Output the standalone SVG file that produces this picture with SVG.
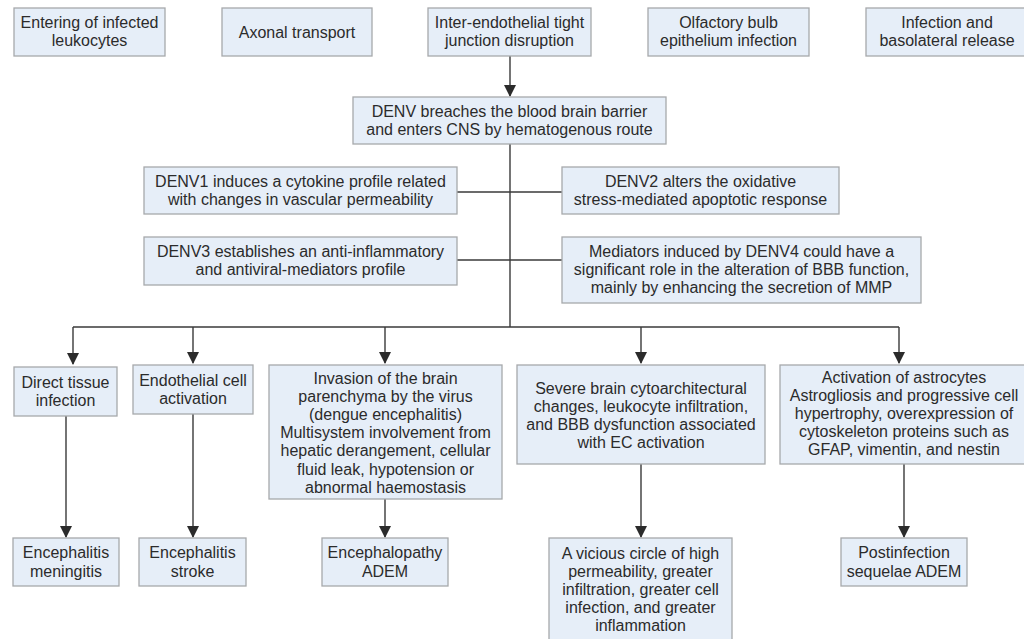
<svg xmlns="http://www.w3.org/2000/svg" width="1024" height="639" viewBox="0 0 1024 639">
<style>
.box{fill:#e6eef8;stroke:#a7a9ab;stroke-width:1.3}
text{font-family:"Liberation Sans",Arial,sans-serif;font-size:16px;fill:#2b2b2b;text-anchor:middle}
.ln{stroke:#3a3a3a;stroke-width:1.4;fill:none}
</style>
<defs>
<marker id="ah" markerWidth="12" markerHeight="12" viewBox="0 0 12 12" refX="11" refY="6" orient="auto" markerUnits="userSpaceOnUse">
<path d="M0,0 L12,6 L0,12 Z" fill="#2b2b2b"/>
</marker>
</defs>
<rect width="1024" height="639" fill="#ffffff"/>
<g id="connectors">
<line class="ln" x1="510" y1="56" x2="510" y2="96" marker-end="url(#ah)"/>
<line class="ln" x1="510" y1="144" x2="510" y2="327"/>
<line class="ln" x1="457" y1="192" x2="562" y2="192"/>
<line class="ln" x1="457" y1="260" x2="562" y2="260"/>
<line class="ln" x1="73" y1="327" x2="899" y2="327"/>
<line class="ln" x1="73" y1="327" x2="73" y2="364" marker-end="url(#ah)"/>
<line class="ln" x1="193" y1="327" x2="193" y2="363" marker-end="url(#ah)"/>
<line class="ln" x1="385" y1="327" x2="385" y2="363" marker-end="url(#ah)"/>
<line class="ln" x1="641" y1="327" x2="641" y2="363" marker-end="url(#ah)"/>
<line class="ln" x1="899" y1="327" x2="899" y2="363" marker-end="url(#ah)"/>
<line class="ln" x1="66" y1="416" x2="66" y2="537" marker-end="url(#ah)"/>
<line class="ln" x1="193" y1="414" x2="193" y2="537" marker-end="url(#ah)"/>
<line class="ln" x1="385" y1="499" x2="385" y2="537" marker-end="url(#ah)"/>
<line class="ln" x1="641" y1="464" x2="641" y2="537" marker-end="url(#ah)"/>
<line class="ln" x1="904" y1="464" x2="904" y2="537" marker-end="url(#ah)"/>
</g>
<g id="t1"><rect class="box" x="14" y="8" width="151" height="48"/><text x="89.5" y="28">Entering of infected</text><text x="89.5" y="46">leukocytes</text></g>
<g id="t2"><rect class="box" x="222" y="8" width="150" height="48"/><text x="297" y="37.5">Axonal transport</text></g>
<g id="t3"><rect class="box" x="428" y="8" width="163" height="48"/><text x="509.5" y="28">Inter-endothelial tight</text><text x="509.5" y="46">junction disruption</text></g>
<g id="t4"><rect class="box" x="648" y="8" width="161" height="48"/><text x="728.5" y="28">Olfactory bulb</text><text x="728.5" y="46">epithelium infection</text></g>
<g id="t5"><rect class="box" x="866" y="8" width="162" height="48"/><text x="947" y="28">Infection and</text><text x="947" y="46">basolateral release</text></g>
<g id="denv"><rect class="box" x="353" y="97" width="313" height="47"/><text x="509.5" y="117">DENV breaches the blood brain barrier</text><text x="509.5" y="135">and enters CNS by hematogenous route</text></g>
<g id="d1"><rect class="box" x="144" y="167" width="313" height="47"/><text x="300.5" y="187">DENV1 induces a cytokine profile related</text><text x="300.5" y="205">with changes in vascular permeability</text></g>
<g id="d3"><rect class="box" x="144" y="237" width="313" height="48"/><text x="300.5" y="257">DENV3 establishes an anti-inflammatory</text><text x="300.5" y="275">and antiviral-mediators profile</text></g>
<g id="d2"><rect class="box" x="562" y="167" width="277" height="47"/><text x="700.5" y="187">DENV2 alters the oxidative</text><text x="700.5" y="205">stress-mediated apoptotic response</text></g>
<g id="d4"><rect class="box" x="562" y="237" width="359" height="66"/><text x="741.5" y="257">Mediators induced by DENV4 could have a</text><text x="741.5" y="275">significant role in the alteration of BBB function,</text><text x="741.5" y="293">mainly by enhancing the secretion of MMP</text></g>
<g id="b1"><rect class="box" x="14" y="367" width="103" height="49"/><text x="65.5" y="388">Direct tissue</text><text x="65.5" y="406">infection</text></g>
<g id="b2"><rect class="box" x="133" y="365" width="120" height="49"/><text x="193" y="386">Endothelial cell</text><text x="193" y="404">activation</text></g>
<g id="b3"><rect class="box" x="269" y="365" width="233" height="134"/><text x="385.5" y="383.5">Invasion of the brain</text><text x="385.5" y="401.7">parenchyma by the virus</text><text x="385.5" y="419.9">(dengue encephalitis)</text><text x="385.5" y="438.1">Multisystem involvement from</text><text x="385.5" y="456.3">hepatic derangement, cellular</text><text x="385.5" y="474.5">fluid leak, hypotension or</text><text x="385.5" y="492.7">abnormal haemostasis</text></g>
<g id="b4"><rect class="box" x="517" y="365" width="248" height="99"/><text x="641" y="393.5">Severe brain cytoarchitectural</text><text x="641" y="411.8">changes, leukocyte infiltration,</text><text x="641" y="430.1">and BBB dysfunction associated</text><text x="641" y="448.4">with EC activation</text></g>
<g id="b5"><rect class="box" x="780" y="365" width="248" height="99"/><text x="904" y="382.5">Activation of astrocytes</text><text x="904" y="400.7">Astrogliosis and progressive cell</text><text x="904" y="418.9">hypertrophy, overexpression of</text><text x="904" y="437.1">cytoskeleton proteins such as</text><text x="904" y="455.3">GFAP, vimentin, and nestin</text></g>
<g id="r1"><rect class="box" x="13" y="538" width="106" height="48"/><text x="66" y="558">Encephalitis</text><text x="66" y="577">meningitis</text></g>
<g id="r2"><rect class="box" x="139" y="538" width="107" height="48"/><text x="192.5" y="558">Encephalitis</text><text x="192.5" y="577">stroke</text></g>
<g id="r3"><rect class="box" x="322" y="538" width="126" height="48"/><text x="385" y="558">Encephalopathy</text><text x="385" y="577">ADEM</text></g>
<g id="r4"><rect class="box" x="549" y="538" width="183" height="110"/><text x="640.5" y="558.5">A vicious circle of high</text><text x="640.5" y="576.7">permeability, greater</text><text x="640.5" y="594.9">infiltration, greater cell</text><text x="640.5" y="613.1">infection, and greater</text><text x="640.5" y="631.3">inflammation</text></g>
<g id="r5"><rect class="box" x="841" y="538" width="126" height="48"/><text x="904" y="558">Postinfection</text><text x="904" y="577">sequelae ADEM</text></g>
</svg>
